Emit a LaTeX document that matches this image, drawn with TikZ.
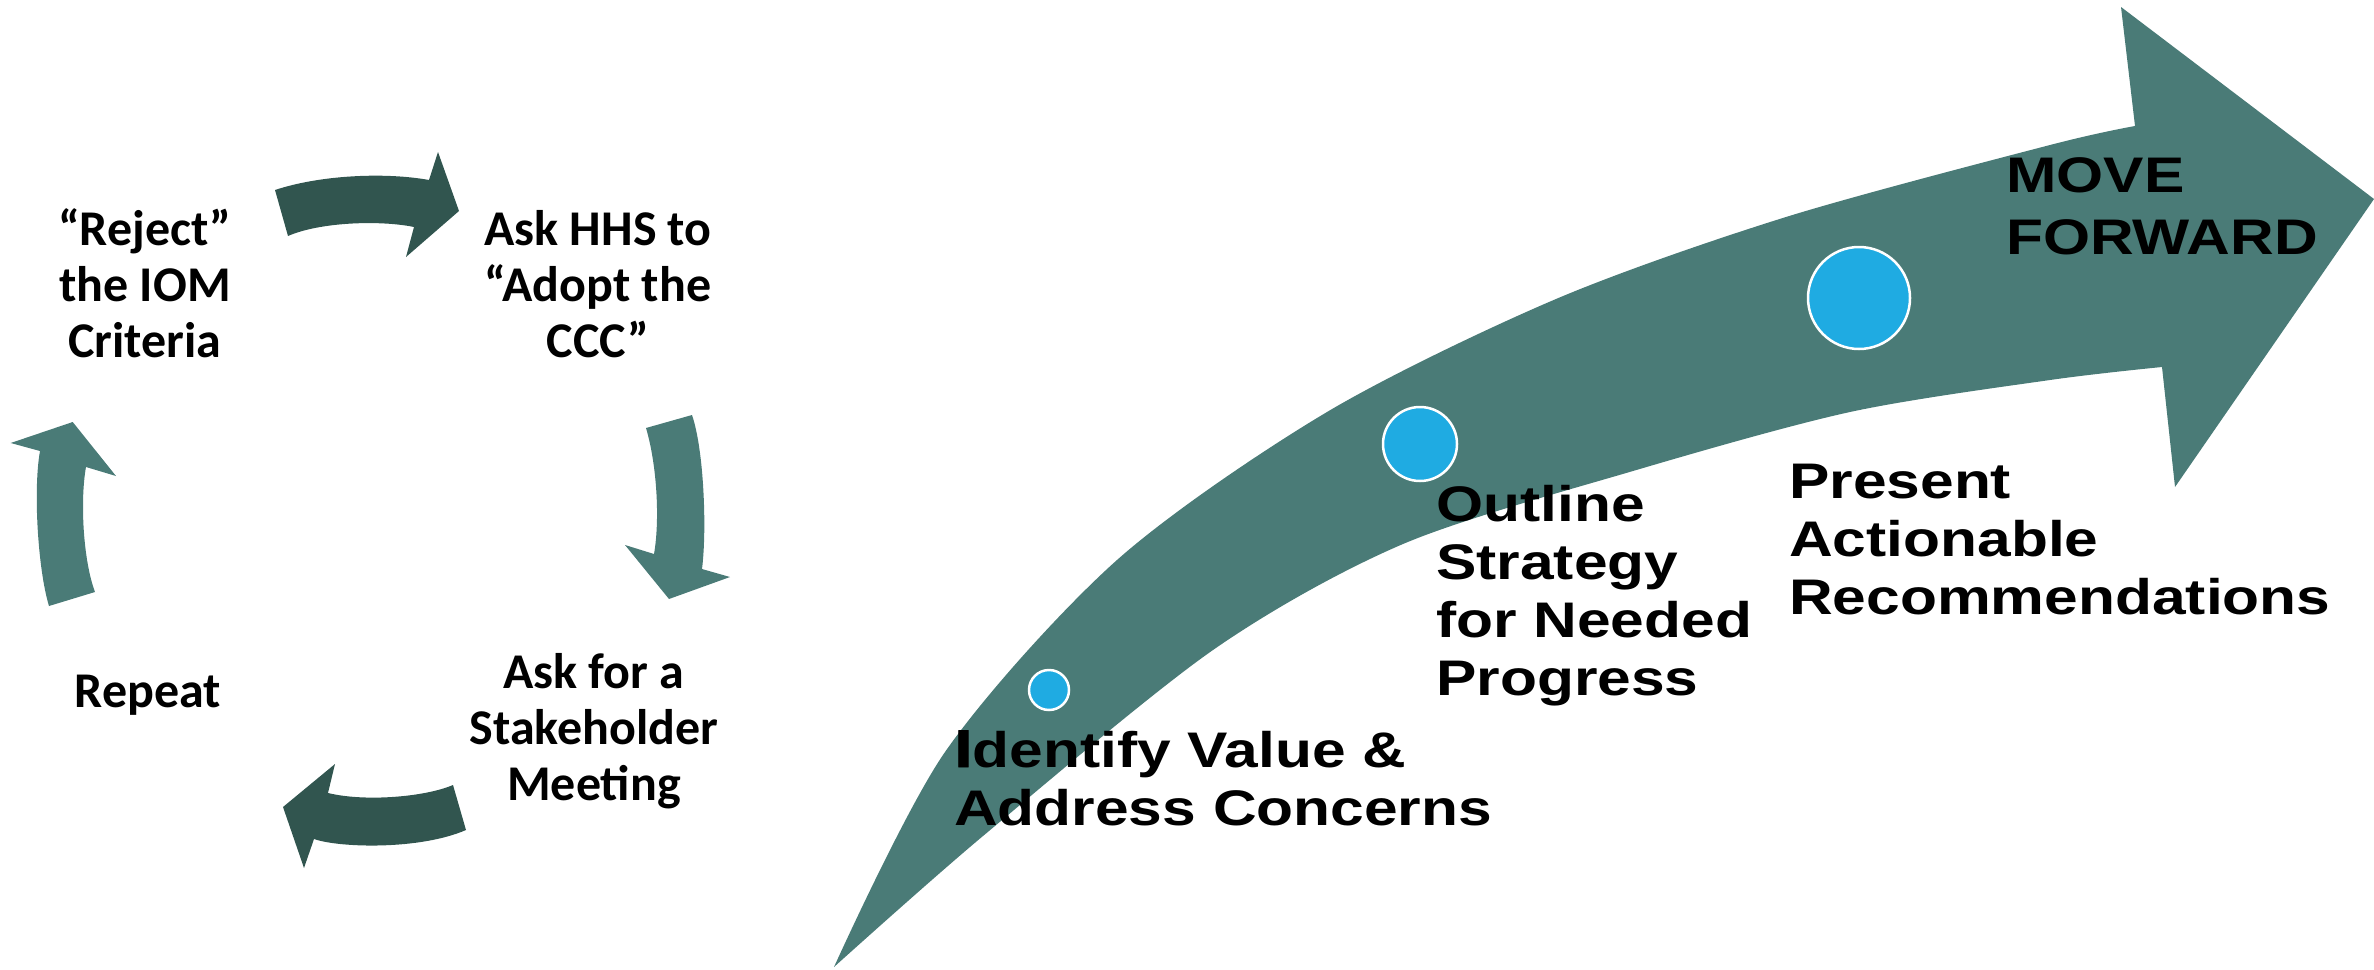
\documentclass[tikz,border=0pt]{standalone}
\usepackage{fontspec}
\newfontfamily\cyclefont{Carlito}
\newfontfamily\stagefont{Liberation Sans}[FakeStretch=1.21]
\newfontfamily\stagecapfont{Liberation Sans}[FakeStretch=1.25,FakeBold=1.5]
\definecolor{tealmain}{HTML}{4A7B77}
\definecolor{tealdark}{HTML}{31554F}
\definecolor{dotblue}{HTML}{1FABE2}
\begin{document}
\begin{tikzpicture}[x=1pt,y=-1pt,
  % multi-line labels are placed by the baseline of their last line
  cyclelabel/.style={inner sep=0pt, anchor=base, align=center,
    font=\cyclefont\bfseries\fontsize{50}{56}\selectfont},
  stagelabel/.style={inner sep=0pt, anchor=base west, align=left,
    font=\stagefont\bfseries\fontsize{50}{58}\selectfont},
  dot/.style={circle, fill=dotblue, draw=white, line width=2.5pt, inner sep=0pt}]
\useasboundingbox (0,0) rectangle (2374,969);

% ---- cycle of four curved arrows ----
% top: left to right
\fill[tealdark] (275,190) .. controls (320,175) and (385,172) .. (429,180)
  -- (438,152) -- (459,211) -- (406,257) -- (414,227)
  .. controls (380,220) and (320,222) .. (288,236) -- cycle;
% right: downwards
\fill[tealmain] (692,415) .. controls (704,450) and (707,530) .. (702,569)
  -- (730,577) -- (669,599) -- (625,545) -- (654,554)
  .. controls (660,520) and (657,465) .. (646,428) -- cycle;
% bottom: right to left
\fill[tealdark] (453,785) .. controls (425,797) and (365,802) .. (328,793)
  -- (335,764) -- (283,807) -- (304,868) -- (314,839)
  .. controls (340,848) and (420,850) .. (466,830) -- cycle;
% left: upwards
\fill[tealmain] (95,592) .. controls (83,560) and (80,500) .. (86,467)
  -- (116,476) -- (72.7,422) -- (10.7,443) -- (40,451)
  .. controls (33,490) and (38,570) .. (49,606) -- cycle;

\node[cyclelabel] (reject) at (145,357) {“Reject”\\the IOM\\Criteria};
\node[cyclelabel] (adopt) at (598,357) {Ask HHS to\\“Adopt the\\CCC”};
\node[cyclelabel] (meeting) at (594,800) {Ask for a\\Stakeholder\\Meeting};
\node[cyclelabel] (repeat) at (148,707) {Repeat};

% ---- large rising arrow ----
\fill[tealmain] plot[smooth] coordinates {(834,967) (945,752) (1117,560) (1327,412)
    (1556,299) (1786,217) (2050,145) (2135,126)}
  -- (2121,7) -- (2374,199) -- (2175,487) --
  plot[smooth] coordinates {(2162,367) (2050,380) (1850,412) (1633,471)
    (1403,544) (1213,650) (983,836) (834,967)} -- cycle;

\node[dot, minimum size=40pt] (dotA) at (1049,690) {};
\node[dot, minimum size=74pt] (dotB) at (1420,444) {};
\node[dot, minimum size=102pt] (dotC) at (1859,298) {};

\node[stagelabel] (identify) at (954,825)
  {{\stagecapfont\fontsize{53}{58}\selectfont I}dentify Value \&\\Address Concerns};
\node[stagelabel] (outline) at (1436,695) {Outline\\Strategy\\for Needed\\Progress};
\node[stagelabel] (present) at (1789,614) {Present\\Actionable\\Recommendations};
\node[stagelabel, font=\stagefont\bfseries\fontsize{50}{62}\selectfont] (forward) at (2006,254) {MOVE\\FORWARD};
\end{tikzpicture}
\end{document}
